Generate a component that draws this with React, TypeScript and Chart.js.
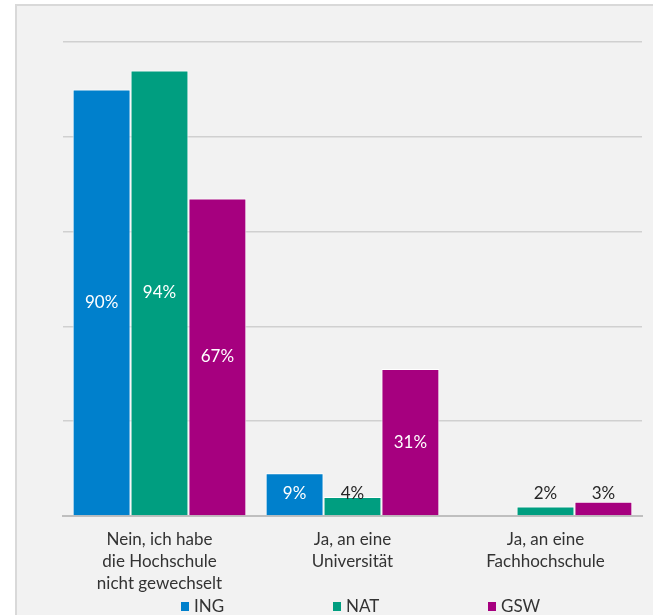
import React, { useEffect, useRef } from "react";
import { Chart, registerables } from "chart.js";

Chart.register(...registerables);

const categories: string[][] = [
  ["Nein, ich habe", "die Hochschule", "nicht gewechselt"],
  ["Ja, an eine", "Universität"],
  ["Ja, an eine", "Fachhochschule"],
];
const seriesNames = ["ING", "NAT", "GSW"];
const ingValues: (number | null)[] = [90, 9, null];
const natValues: (number | null)[] = [94, 4, 2];
const gswValues: (number | null)[] = [67, 31, 3];
const seriesColors = ["#0080CC", "#009E80", "#A6007F"];
const yTicks = { min: 0, max: 100, step: 20 };

const FONT_FAMILY = "Lato";
const FONT_SIZE = 17;
const TEXT_COLOR = "#333333";

const backgroundPlugin = {
  id: "panelBg",
  beforeDraw(chart: any) {
    const ctx = chart.ctx;
    ctx.save();
    ctx.fillStyle = "#F2F2F2";
    ctx.fillRect(15, 4, chart.width - 15, chart.height - 4);
    ctx.fillStyle = "#D9D9D9";
    ctx.fillRect(15, 4, 2, chart.height - 4);
    ctx.fillRect(15, 4, chart.width - 15, 2);
    ctx.restore();
  },
};

const valueLabelPlugin = {
  id: "valueLabels",
  afterDatasetsDraw(chart: any) {
    const ctx = chart.ctx;
    ctx.save();
    ctx.font = `${FONT_SIZE}px ${FONT_FAMILY}`;
    ctx.textAlign = "center";
    ctx.textBaseline = "middle";
    chart.data.datasets.forEach((ds: any, di: number) => {
      const meta = chart.getDatasetMeta(di);
      meta.data.forEach((el: any, i: number) => {
        const v = ds.data[i];
        if (v === null || v === undefined) return;
        const h = el.base - el.y;
        const cy = Math.min((el.y + el.base) / 2, el.base - 22);
        ctx.fillStyle = h > 30 ? "#FFFFFF" : "#262626";
        ctx.fillText(`${v}%`, el.x, cy);
      });
    });
    ctx.restore();
  },
};

const legendPlugin = {
  id: "customLegend",
  afterDraw(chart: any) {
    const ctx = chart.ctx;
    const xs = [181, 333, 488];
    const y = 606.5;
    ctx.save();
    ctx.font = `${FONT_SIZE}px ${FONT_FAMILY}`;
    ctx.textAlign = "left";
    ctx.textBaseline = "middle";
    seriesNames.forEach((name, i) => {
      ctx.fillStyle = seriesColors[i];
      ctx.fillRect(xs[i], y - 4.5, 8, 9);
      ctx.fillStyle = TEXT_COLOR;
      ctx.fillText(name, xs[i] + 13, y);
    });
    ctx.restore();
  },
};

export default function App() {
  const ref = useRef<HTMLCanvasElement | null>(null);

  useEffect(() => {
    if (!ref.current) return;
    const values = [ingValues, natValues, gswValues];
    const chart = new Chart(ref.current, {
      type: "bar",
      data: {
        labels: categories,
        datasets: seriesNames.map((name, i) => ({
          label: name,
          data: values[i],
          backgroundColor: seriesColors[i],
          borderColor: "#FFFFFF",
          borderWidth: 1,
          categoryPercentage: 0.9,
          barPercentage: 1.0,
        })),
      },
      options: {
        responsive: false,
        animation: false,
        layout: { padding: { left: 63, right: 11, top: 42, bottom: 0 } },
        plugins: {
          legend: { display: false },
          tooltip: { enabled: false },
        },
        scales: {
          x: {
            grid: { display: false, drawTicks: false },
            border: { display: true, color: "#BFBFBF", width: 2 },
            ticks: {
              color: TEXT_COLOR,
              font: { family: FONT_FAMILY, size: FONT_SIZE, lineHeight: 1.3 },
              padding: 12,
              maxRotation: 0,
              autoSkip: false,
            },
            afterFit(scale: any) {
              scale.height = 99;
            },
          },
          y: {
            min: yTicks.min,
            max: yTicks.max,
            ticks: { display: false, stepSize: yTicks.step },
            grid: { color: "#D0D0D0", lineWidth: 1.5, drawTicks: false },
            border: { display: false },
            afterFit(scale: any) {
              scale.width = 0;
            },
          },
        },
      },
      plugins: [backgroundPlugin, valueLabelPlugin, legendPlugin],
    });
    return () => chart.destroy();
  }, []);

  return (
    <canvas
      ref={ref}
      width={653}
      height={615}
      style={{ position: "absolute", left: 0, top: 0, width: 653, height: 615 }}
    />
  );
}
